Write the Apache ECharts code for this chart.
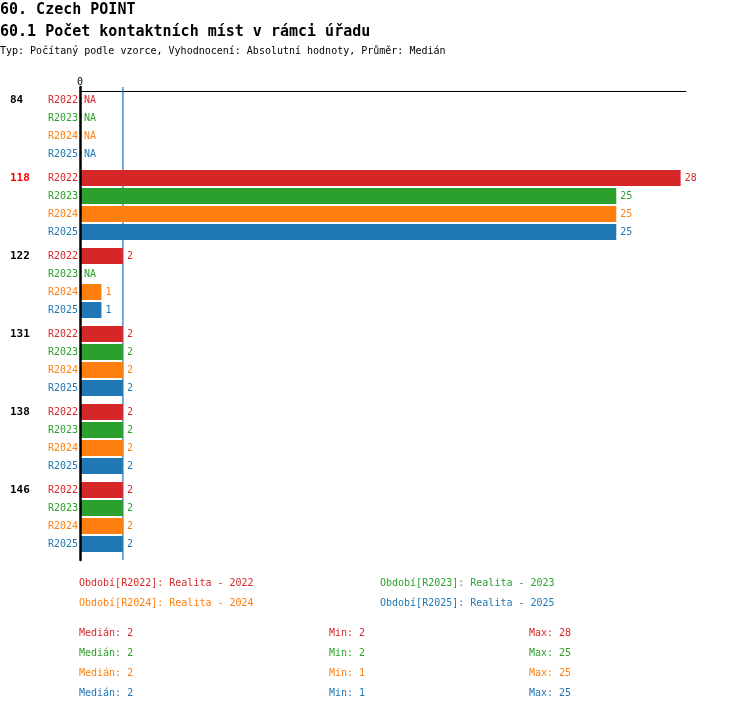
<!DOCTYPE html>
<html><head><meta charset="utf-8">
<script src="https://cdn.jsdelivr.net/npm/echarts@6/dist/echarts.min.js"></script>
<style>html,body{margin:0;padding:0;background:#fff}#c{width:750px;height:710px}</style>
</head><body><div id="c"></div>
<script>
const titleText = '60. Czech POINT';
const subtitleText = '60.1 Počet kontaktních míst v rámci úřadu';
const typeText = 'Typ: Počítaný podle vzorce, Vyhodnocení: Absolutní hodnoty, Průměr: Medián';
const categories = ['84', '118', '122', '131', '138', '146'];
const highlighted = ['118'];
const periods = ['R2022', 'R2023', 'R2024', 'R2025'];
const periodNames = ['Realita - 2022', 'Realita - 2023', 'Realita - 2024', 'Realita - 2025'];
const colors = ['#d62728', '#2ca02c', '#ff7f0e', '#1f77b4'];
const r2022 = [null, 28, 2, 2, 2, 2];
const r2023 = [null, 25, null, 2, 2, 2];
const r2024 = [null, 25, 1, 2, 2, 2];
const r2025 = [null, 25, 1, 2, 2, 2];
const seriesValues = [r2022, r2023, r2024, r2025];
const xMax = 28.25;

const FONT = 'DejaVu Sans Mono';
function median(a){const s=a.filter(v=>v!=null).slice().sort((x,y)=>x-y);const n=s.length;return n%2?s[(n-1)/2]:(s[n/2-1]+s[n/2])/2;}
const allVals = [].concat(...seriesValues);
const overallMedian = median(allVals);

const GL = 80, GW = 606, TOP0 = 91, STEP = 78, GH = 72;
const grids = [], xAxes = [], yAxes = [], series = [];
categories.forEach((cat, i) => {
  grids.push({left: GL, width: GW, top: TOP0 + STEP * i, height: GH});
  xAxes.push({
    gridIndex: i, type: 'value', min: 0, max: xMax, position: 'top',
    show: i === 0,
    axisLine: {show: i === 0, onZero: false, lineStyle: {color: '#000', width: 1}},
    axisTick: {show: false}, splitLine: {show: false},
    axisLabel: {show: i === 0, margin: 4, fontFamily: FONT, fontSize: 10, color: '#000',
      formatter: v => v === 0 ? '0' : ''}
  });
  yAxes.push({
    gridIndex: i, type: 'category', data: periods, inverse: true, position: 'left',
    axisLine: {show: false}, axisTick: {show: false},
    axisLabel: {margin: 2, fontFamily: FONT, fontSize: 10,
      formatter: (v, idx) => '{p' + idx + '|' + v + '}',
      rich: Object.fromEntries(colors.map((c, k) => ['p' + k, {color: c, fontFamily: FONT, fontSize: 10}]))}
  });
  yAxes.push({
    gridIndex: i, type: 'category', data: periods.map((p, k) => k === 0 ? cat : ''), inverse: true, position: 'left',
    axisLine: {show: false}, axisTick: {show: false},
    axisLabel: {margin: 70, align: 'left', fontFamily: FONT, fontSize: 11, fontWeight: 'bold',
      color: highlighted.includes(cat) ? '#ff0000' : '#000', interval: 0}
  });
  series.push({
    type: 'bar', xAxisIndex: i, yAxisIndex: i * 2, barWidth: 16, z: 3,
    data: periods.map((p, k) => {
      const v = seriesValues[k][i];
      return {
        value: v == null ? 0 : v,
        itemStyle: {color: colors[k]},
        label: {show: true, position: 'right', distance: 4, color: colors[k], fontFamily: FONT, fontSize: 10,
          formatter: v == null ? 'NA' : String(v)}
      };
    })
  });
});

// overlay grid for the vertical axis line and median line
const ov = categories.length;
grids.push({left: GL, width: GW, top: 87, height: 473});
xAxes.push({gridIndex: ov, type: 'value', min: 0, max: xMax, show: false});
yAxes.push({gridIndex: ov, type: 'value', min: 0, max: 1, position: 'left', z: 10,
  axisLine: {show: true, onZero: false, lineStyle: {color: '#000', width: 2.5}},
  axisTick: {show: false}, axisLabel: {show: false}, splitLine: {show: false}});
series.push({
  type: 'line', xAxisIndex: ov, yAxisIndex: yAxes.length - 1, z: 1, silent: true,
  symbol: 'none', lineStyle: {color: '#1f77b4', width: 1.2},
  data: [[overallMedian, 0], [overallMedian, 1]]
});

const graphics = [];
periods.forEach((p, k) => {
  graphics.push({type: 'text', left: k % 2 === 0 ? 79 : 380, top: 578 + 20 * Math.floor(k / 2),
    style: {text: 'Období[' + p + ']: ' + periodNames[k], fill: colors[k], font: '10px "' + FONT + '"'}});
  const vals = seriesValues[k].filter(v => v != null);
  const stats = ['Medián: ' + median(vals), 'Min: ' + Math.min(...vals), 'Max: ' + Math.max(...vals)];
  [79, 329, 529].forEach((x, s) => {
    graphics.push({type: 'text', left: x, top: 628 + 20 * k,
      style: {text: stats[s], fill: colors[k], font: '10px "' + FONT + '"'}});
  });
});

const chart = echarts.init(document.getElementById('c'), null, {renderer: 'canvas'});
chart.setOption({
  animation: false,
  backgroundColor: '#fff',
  title: [
    {text: titleText, left: 0, top: 3, padding: 0, textStyle: {fontFamily: FONT, fontSize: 15, fontWeight: 'bold', color: '#000'}},
    {text: subtitleText, left: 0, top: 25, padding: 0, textStyle: {fontFamily: FONT, fontSize: 15, fontWeight: 'bold', color: '#000'}},
    {text: typeText, left: 0, top: 46, padding: 0, textStyle: {fontFamily: FONT, fontSize: 10, fontWeight: 'normal', color: '#000'}}
  ],
  grid: grids, xAxis: xAxes, yAxis: yAxes, series: series, graphic: graphics
});
</script></body></html>
